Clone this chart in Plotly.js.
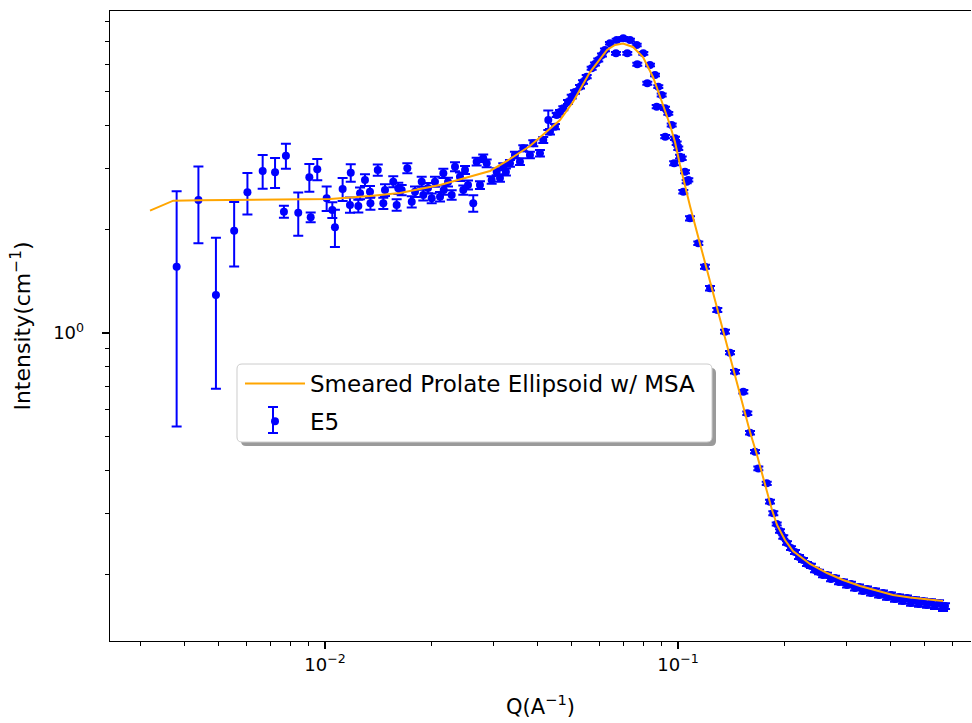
<!DOCTYPE html>
<html>
<head>
<meta charset="utf-8">
<script src="https://cdn.plot.ly/plotly-3.0.1.min.js"></script>
<style>html,body{margin:0;padding:0;background:#fff;}#chart{width:972px;height:723px;}</style>
</head>
<body>
<div id="chart"></div>
<script>
// ---- measured data (E5) ----
const qData = [
0.00380,0.00438,0.00491,0.00553,0.00603,0.00666,0.00722,0.00765,0.00775,0.00840,
0.00903,0.00911,0.00951,0.01011,0.01049,0.01067,0.01122,0.01177,0.01183,
0.01243,0.01257,0.01298,0.01341,0.01345,0.01411,0.01463,0.01479,0.01561,0.01596,0.01613,
0.01649,0.01711,0.01761,0.01799,0.01879,0.01899,0.01958,0.02006,0.02049,0.02118,
0.02164,0.02170,0.02231,0.02285,0.02335,0.02412,0.02465,0.02493,0.02542,0.02630,
0.02689,0.02748,0.02807,0.02871,0.02966,0.03064,0.03131,0.03199,0.03255,0.03342,
0.03452,0.03567,0.03645,0.03807,0.03891,0.04064,0.04152,0.04291,0.04339,0.04483,
0.04533,0.04632,0.04732,0.04880,0.04999,0.05107,0.05277,0.05381,0.05513,0.05694,
0.05818,0.05944,0.06090,0.06210,0.06416,0.06673,0.06703,0.06998,0.07183,0.07311,
0.07638,0.07668,0.07975,0.08185,0.08332,0.08607,0.08703,0.08794,0.08991,0.09188,
0.09200,0.09386,0.09598,0.09750,0.09806,0.09915,0.10018,0.10132,0.10245,0.10351,
0.10467,0.10583,0.10695,0.10814,
0.11415,0.11925,0.12321,0.12922,0.13587,0.14039,0.14505,0.15311,0.15715,0.15996,
0.16525,0.16886,
0.1784,0.1822,0.1862,0.1904,0.1945,0.1987,0.2036,0.2090,0.2145,0.2202,
0.2260,0.2320,0.2381,0.2444,0.2509,0.2575,0.2643,0.2713,0.2785,0.2858,
0.2934,0.3012,0.3091,0.3173,0.3257,0.3343,0.3431,0.3522,0.3615,0.3711,
0.3808,0.3909,0.4012,0.4118,0.4227,0.4339,0.4453,0.4572,0.4693,0.4816,
0.4944,0.5075,0.5209,0.5346,0.5488,0.5633,0.5707
];
const iData = [
1.556,2.430,1.289,1.979,2.557,2.949,2.923,2.247,3.265,2.232,
2.827,2.164,2.982,2.458,2.273,2.025,2.615,2.350,2.915,
2.334,2.540,2.777,2.568,2.376,2.968,2.376,2.597,2.746,2.350,2.627,
2.597,3.002,2.402,2.568,2.746,2.512,2.632,2.457,2.746,2.484,
2.904,2.597,2.740,2.512,3.034,2.838,2.597,2.968,2.685,2.376,
3.138,2.685,3.210,3.104,2.777,2.935,2.814,3.034,2.929,3.104,
3.281,3.138,3.431,3.281,3.547,3.319,3.626,4.144,3.833,3.963,
4.285,4.371,4.480,4.673,4.841,4.995,5.176,5.340,5.532,5.850,
6.021,6.184,6.394,6.612,6.913,6.467,7.067,7.147,6.467,7.067,
6.836,6.009,6.467,5.294,5.981,5.595,4.528,5.176,4.896,4.480,
3.707,4.333,4.009,3.104,3.667,3.547,3.431,3.243,3.210,2.568,
2.935,2.745,2.777,2.150,
1.820,1.556,1.348,1.166,1.009,0.877,0.772,0.676,0.585,0.514,
0.453,0.405,
0.3667,0.3243,0.3001,0.2795,0.2668,0.2563,0.2462,0.2381,0.2318,0.2242,
0.2198,0.2140,0.2112,0.2056,0.2029,0.1989,0.1989,0.1936,0.1950,0.1898,
0.1898,0.1860,0.1872,0.1823,0.1835,0.1787,0.1811,0.1763,0.1787,0.1740,
0.1763,0.1717,0.1740,0.1694,0.1717,0.1671,0.1705,0.1649,0.1683,0.1638,
0.1671,0.1627,0.1660,0.1616,0.1649,0.1595,0.1616
];
const dIData = [
1.02,0.61,0.60,0.42,0.35,0.33,0.29,0.09,0.27,0.32,
0.26,0.07,0.21,0.20,0.12,0.25,0.20,0.12,0.17,
0.10,0.10,0.11,0.10,0.10,0.11,0.09,0.10,0.10,0.09,0.10,
0.09,0.10,0.09,0.09,0.09,0.09,0.09,0.08,0.09,0.08,
0.09,0.08,0.08,0.08,0.09,0.08,0.08,0.08,0.08,0.13,
0.08,0.07,0.08,0.08,0.07,0.07,0.07,0.07,0.07,0.07,
0.07,0.07,0.07,0.07,0.07,0.07,0.07,0.27,0.07,0.07,
0.06,0.06,0.06,0.06,0.06,0.06,0.06,0.06,0.06,0.06,
0.06,0.06,0.06,0.06,0.06,0.06,0.06,0.06,0.06,0.06,
0.06,0.06,0.06,0.05,0.05,0.05,0.05,0.05,0.05,0.05,
0.04,0.04,0.04,0.04,0.04,0.04,0.04,0.04,0.04,0.03,
0.03,0.03,0.03,0.03,
0.02,0.02,0.02,0.015,0.012,0.01,0.009,0.008,0.007,0.006,
0.005,0.005,
0.004,0.004,0.004,0.003,0.003,0.003,0.003,0.003,0.003,0.003,
0.003,0.003,0.003,0.003,0.003,0.003,0.003,0.003,0.003,0.003,
0.003,0.003,0.003,0.003,0.003,0.003,0.003,0.003,0.003,0.003,
0.003,0.003,0.003,0.003,0.003,0.003,0.003,0.003,0.003,0.003,
0.003,0.003,0.003,0.003,0.003,0.003,0.003
];

// ---- model curve: Smeared Prolate Ellipsoid w/ MSA ----
const qFit = [
0.003194,0.003718,0.004425,0.006132,0.008495,0.010332,0.013411,0.016308,0.021176,0.025751,
0.029342,0.033419,0.038072,0.04200,0.04632,0.05041,0.05633,0.06295,0.06629,0.06985,
0.07455,0.07959,0.08495,0.09069,0.09491,0.09806,0.10132,0.10814,0.11543,0.12321,
0.13152,0.14039,0.14985,0.15996,0.16743,0.17637,0.18463,0.19077,0.20095,0.21174,
0.23656,0.2643,0.2934,0.3278,0.3662,0.4065,0.4542,0.5075,0.5633
];
const iFit = [
2.262,2.418,2.424,2.430,2.435,2.446,2.495,2.546,2.685,2.833,
2.949,3.194,3.483,3.799,4.144,4.673,5.707,6.612,6.836,6.904,
6.745,6.310,5.521,4.580,4.009,3.578,3.069,2.334,1.811,1.405,
1.0906,0.8519,0.6611,0.5164,0.4430,0.3625,0.3069,0.2777,0.2512,0.2334,
0.2140,0.2015,0.1923,0.1848,0.1787,0.1740,0.1711,0.1688,0.1671
];

// ---- axis ticks ----
const xMajorVals = [0.01, 0.1];
const xMajorText = ['10<sup>−2</sup>', '10<sup>−1</sup>'];
const xMinorVals = [0.003,0.004,0.005,0.006,0.007,0.008,0.009,0.02,0.03,0.04,0.05,0.06,0.07,0.08,0.09,0.2,0.3,0.4,0.5,0.6];
const yMajorVals = [1];
const yMajorText = ['10<sup>0</sup>'];
const yMinorVals = [0.2,0.3,0.4,0.5,0.6,0.7,0.8,0.9,2,3,4,5,6,7,8];

const seriesNames = ['E5', 'Smeared Prolate Ellipsoid w/ MSA'];

const FONT = 'DejaVu Sans, sans-serif';
const BLUE = '#0000ff';

const traces = [
  {
    x: qData, y: iData, type: 'scatter', mode: 'markers', name: seriesNames[0],
    legendgroup: 'b', legendrank: 2,
    marker: {color: BLUE, size: 8},
    error_y: {type: 'data', array: dIData, visible: true, color: BLUE, thickness: 2, width: 5}
  },
  {
    x: qFit, y: iFit, type: 'scatter', mode: 'lines', name: seriesNames[1],
    legendgroup: 'a', legendrank: 1,
    line: {color: '#ffa500', width: 2}
  }
];

// helpers: convert figure pixel positions to paper fractions (decoration only)
function PX(p){ return (p - 110) / 861; }
function PY(p){ return (641 - p) / 630; }
function roundRect(x0, y0, x1, y1, r){
  const a = (x, y) => PX(x).toFixed(5) + ',' + PY(y).toFixed(5);
  return 'M' + a(x0 + r, y0) + ' L' + a(x1 - r, y0) + ' Q' + a(x1, y0) + ' ' + a(x1, y0 + r) +
         ' L' + a(x1, y1 - r) + ' Q' + a(x1, y1) + ' ' + a(x1 - r, y1) +
         ' L' + a(x0 + r, y1) + ' Q' + a(x0, y1) + ' ' + a(x0, y1 - r) +
         ' L' + a(x0, y0 + r) + ' Q' + a(x0, y0) + ' ' + a(x0 + r, y0) + ' Z';
}

// legend errorbar glyph position (figure px)
const gx = 273, gy = 420;

const layout = {
  width: 972, height: 723,
  margin: {l: 110, r: 1, t: 11, b: 82, pad: 0},
  paper_bgcolor: '#ffffff', plot_bgcolor: '#ffffff',
  font: {family: FONT, size: 16, color: '#000000'},
  showlegend: true,
  xaxis: {
    type: 'log', range: [-2.609, -0.170],
    showgrid: false, zeroline: false,
    showline: true, linecolor: '#000', linewidth: 1.3, mirror: true,
    ticks: 'outside', ticklen: 7, tickwidth: 1.2, tickcolor: '#000',
    tickmode: 'array', tickvals: xMajorVals, ticktext: xMajorText,
    tickfont: {family: FONT, size: 18, color: '#000'},
    minor: {ticks: 'outside', ticklen: 4, tickwidth: 1, tickcolor: '#000', tickmode: 'array', tickvals: xMinorVals, showgrid: false},
    title: {text: 'Q(A<sup>−1</sup>)', font: {family: FONT, size: 21, color: '#000'}, standoff: 25}
  },
  yaxis: {
    type: 'log', range: [-0.8928, 0.9333],
    showgrid: false, zeroline: false,
    showline: true, linecolor: '#000', linewidth: 1.3, mirror: false,
    ticks: 'outside', ticklen: 7, tickwidth: 1.2, tickcolor: '#000',
    tickmode: 'array', tickvals: yMajorVals, ticktext: yMajorText,
    ticklabelstandoff: 14,
    tickfont: {family: FONT, size: 18, color: '#000'},
    minor: {ticks: 'outside', ticklen: 4, tickwidth: 1, tickcolor: '#000', tickmode: 'array', tickvals: yMinorVals, showgrid: false},
    title: {text: 'Intensity(cm<sup>−1</sup>)', font: {family: FONT, size: 22, color: '#000'}, standoff: 16}
  },
  legend: {
    x: PX(240), y: PY(362), xanchor: 'left', yanchor: 'top',
    bgcolor: 'rgba(0,0,0,0)', borderwidth: 0,
    font: {family: FONT, size: 23, color: '#000'},
    traceorder: 'grouped', tracegroupgap: 5,
    itemwidth: 60
  },
  shapes: [
    {type: 'path', xref: 'paper', yref: 'paper', layer: 'above',
     path: roundRect(241, 368, 716, 446, 5), fillcolor: '#9a9a9a', line: {width: 0}},
    {type: 'path', xref: 'paper', yref: 'paper', layer: 'above',
     path: roundRect(237, 364, 712, 442, 5), fillcolor: '#ffffff', line: {color: '#cccccc', width: 1}},
    {type: 'line', xref: 'paper', yref: 'paper', layer: 'above',
     x0: PX(gx), x1: PX(gx), y0: PY(gy - 13), y1: PY(gy + 13), line: {color: BLUE, width: 2}},
    {type: 'line', xref: 'paper', yref: 'paper', layer: 'above',
     x0: PX(gx - 5), x1: PX(gx + 5), y0: PY(gy - 13), y1: PY(gy - 13), line: {color: BLUE, width: 2}},
    {type: 'line', xref: 'paper', yref: 'paper', layer: 'above',
     x0: PX(gx - 5), x1: PX(gx + 5), y0: PY(gy + 13), y1: PY(gy + 13), line: {color: BLUE, width: 2}}
  ]
};

Plotly.newPlot('chart', traces, layout, {displayModeBar: false, staticPlot: true});
</script>
</body>
</html>
